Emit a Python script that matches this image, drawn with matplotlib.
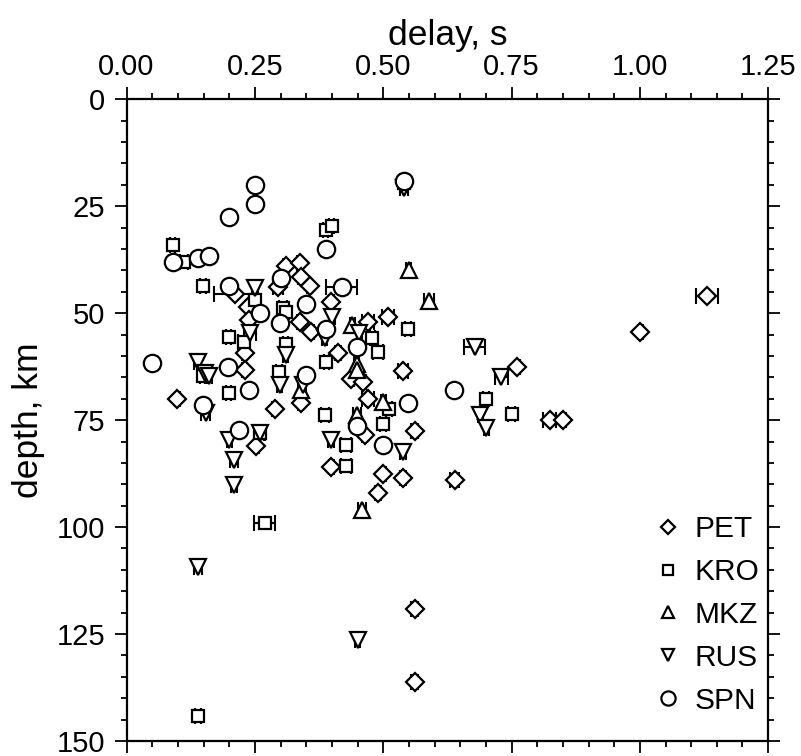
import numpy as np
import matplotlib.pyplot as plt
from matplotlib.lines import Line2D
from matplotlib.ticker import MultipleLocator, FormatStrFormatter

plt.rcParams['font.family'] = ['Liberation Sans', 'DejaVu Sans']

# PET (diamonds)
pet_delay = [0.211, 0.295, 0.310, 0.337, 0.339, 0.357, 0.399, 0.237, 0.239, 0.337,
             0.360, 0.230, 0.230, 0.099, 0.289, 0.339, 0.253, 0.412, 0.438, 0.461,
             0.470, 0.509, 0.539, 0.470, 0.561, 0.464, 0.399, 0.500, 0.539, 0.639,
             0.490, 0.761, 1.001, 0.824, 0.851, 1.131, 0.561, 0.561]
pet_depth = [45.5, 43.8, 39.0, 38.4, 41.5, 43.7, 47.5, 48.5, 51.6, 52.0,
             54.3, 59.4, 63.3, 70.1, 72.5, 71.1, 81.0, 59.4, 65.3, 66.0,
             52.0, 50.9, 63.5, 70.1, 77.5, 78.5, 86.0, 87.5, 88.6, 89.0,
             92.1, 62.5, 54.5, 75.0, 75.0, 46.0, 119.2, 136.1]
pet_err = [0.04, 0.01, 0.005, 0.005, 0.005, 0.005, 0.005, 0.005, 0.005, 0.005,
           0.005, 0.005, 0.005, 0.005, 0.005, 0.005, 0.005, 0.005, 0.005, 0.005,
           0.012, 0.012, 0.01, 0.012, 0.006, 0.005, 0.005, 0.005, 0.006, 0.008,
           0.006, 0.005, 0.005, 0.013, 0.005, 0.022, 0.006, 0.006]

# KRO (squares)
kro_delay = [0.090, 0.112, 0.149, 0.250, 0.305, 0.388, 0.400, 0.540, 0.199, 0.228,
             0.311, 0.310, 0.297, 0.148, 0.199, 0.260, 0.548, 0.479, 0.490, 0.389,
             0.511, 0.386, 0.500, 0.428, 0.428, 0.700, 0.750, 0.269, 0.139]
kro_depth = [34.1, 38.0, 43.6, 47.0, 48.8, 30.5, 29.6, 19.5, 55.5, 56.7,
             49.7, 57.1, 63.7, 64.7, 68.6, 78.0, 53.6, 55.9, 59.0, 61.4,
             72.3, 73.8, 75.9, 80.8, 85.7, 70.1, 73.6, 99.0, 144.1]
kro_err = [0.005, 0.007, 0.006, 0.005, 0.008, 0.005, 0.005, 0.008, 0.005, 0.01,
           0.005, 0.005, 0.006, 0.005, 0.005, 0.008, 0.006, 0.005, 0.01, 0.005,
           0.006, 0.008, 0.006, 0.01, 0.01, 0.006, 0.006, 0.02, 0.006]

# MKZ (triangles up)
mkz_delay = [0.550, 0.589, 0.440, 0.448, 0.448, 0.339, 0.500, 0.449, 0.459]
mkz_depth = [40.0, 47.2, 52.8, 61.8, 63.4, 68.0, 70.7, 73.8, 96.0]
mkz_err = [0.005, 0.01, 0.005, 0.005, 0.005, 0.005, 0.005, 0.008, 0.008]

# RUS (triangles down)
rus_delay = [0.540, 0.250, 0.240, 0.139, 0.152, 0.161, 0.154, 0.310, 0.298, 0.344,
             0.401, 0.386, 0.453, 0.200, 0.260, 0.209, 0.209, 0.399, 0.539, 0.678,
             0.689, 0.701, 0.730, 0.139, 0.450]
rus_depth = [20.7, 44.1, 54.7, 61.4, 64.0, 64.7, 73.4, 59.8, 66.8, 66.8,
             50.9, 55.9, 54.7, 79.7, 78.1, 84.3, 90.2, 79.7, 82.5, 57.9,
             73.8, 76.9, 64.9, 109.4, 126.4]
rus_err = [0.008, 0.006, 0.012, 0.007, 0.005, 0.005, 0.008, 0.005, 0.005, 0.005,
           0.005, 0.005, 0.005, 0.005, 0.01, 0.008, 0.006, 0.006, 0.006, 0.021,
           0.005, 0.005, 0.013, 0.008, 0.005]

# SPN (circles)
spn_delay = [0.250, 0.250, 0.200, 0.090, 0.139, 0.161, 0.200, 0.260, 0.300, 0.349,
             0.389, 0.540, 0.419, 0.049, 0.149, 0.198, 0.239, 0.298, 0.350, 0.219,
             0.389, 0.449, 0.548, 0.638, 0.449, 0.500]
spn_depth = [20.1, 24.6, 27.6, 38.0, 37.0, 36.6, 43.6, 50.0, 41.7, 47.9,
             35.1, 19.1, 43.8, 61.6, 71.5, 62.5, 68.0, 52.4, 64.5, 77.3,
             53.6, 57.9, 71.1, 68.0, 76.4, 80.8]
spn_err = [0.005, 0.005, 0.005, 0.005, 0.005, 0.005, 0.005, 0.005, 0.005, 0.005,
           0.005, 0.008, 0.03, 0.005, 0.005, 0.005, 0.005, 0.005, 0.005, 0.005,
           0.005, 0.005, 0.005, 0.005, 0.005, 0.005]

stations = ['PET', 'KRO', 'MKZ', 'RUS', 'SPN']
markers = {'PET': 'D', 'KRO': 's', 'MKZ': '^', 'RUS': 'v', 'SPN': 'o'}
sizes = {'PET': 9.3, 'KRO': 9.0, 'MKZ': 11.3, 'RUS': 11.3, 'SPN': 12.5}
data = {
    'PET': (pet_delay, pet_depth, pet_err),
    'KRO': (kro_delay, kro_depth, kro_err),
    'MKZ': (mkz_delay, mkz_depth, mkz_err),
    'RUS': (rus_delay, rus_depth, rus_err),
    'SPN': (spn_delay, spn_depth, spn_err),
}

fig = plt.figure(figsize=(8.01, 7.56), dpi=100)
ax = fig.add_axes([0.158, 0.0198, 0.801, 0.849])

for st in stations:
    d, z, e = data[st]
    ax.errorbar(d, z, xerr=e, fmt='none', ecolor='black', elinewidth=1.5,
                capsize=6, capthick=1.5, zorder=2)
for st in stations:
    d, z, e = data[st]
    ax.plot(d, z, linestyle='none', marker=markers[st], markersize=sizes[st],
            markerfacecolor='white', markeredgecolor='black',
            markeredgewidth=1.6, zorder=3)

ax.set_xlim(0, 1.25)
ax.set_ylim(150, 0)
ax.xaxis.set_major_locator(MultipleLocator(0.25))
ax.xaxis.set_minor_locator(MultipleLocator(0.05))
ax.xaxis.set_major_formatter(FormatStrFormatter('%.2f'))
ax.yaxis.set_major_locator(MultipleLocator(25))
ax.yaxis.set_minor_locator(MultipleLocator(5))

ax.tick_params(which='both', direction='out', top=True, bottom=True,
               left=True, right=True, labeltop=True, labelbottom=False,
               labelleft=True, labelright=False, width=1.3)
ax.tick_params(which='major', length=8.5, labelsize=21)
ax.tick_params(axis='x', which='major', pad=4.5)
ax.tick_params(axis='y', which='major', pad=7)
ax.tick_params(which='minor', length=4.3)
for s in ax.spines.values():
    s.set_linewidth(1.6)

ax.xaxis.set_label_position('top')
ax.set_xlabel('delay, s', fontsize=25.5, labelpad=6)
ax.set_ylabel('depth, km', fontsize=25.5, labelpad=8)

handles = [Line2D([], [], linestyle='none', marker=markers[st],
                  markersize=sizes[st] * 0.82, markerfacecolor='white',
                  markeredgecolor='black', markeredgewidth=1.6)
           for st in stations]
ax.legend(handles, stations, loc='lower right', bbox_to_anchor=(1.0, 0.027),
          frameon=False, fontsize=21.5, handlelength=1.0, handletextpad=0.4,
          labelspacing=0.5, borderpad=0.3, borderaxespad=0)

fig.savefig('out.png', dpi=100)
